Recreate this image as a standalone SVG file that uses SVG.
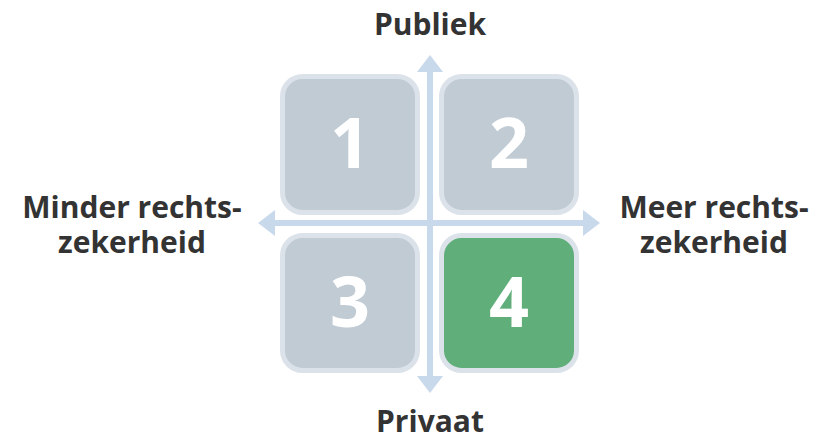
<svg xmlns="http://www.w3.org/2000/svg" width="818" height="439" viewBox="0 0 818 439">
<defs>
<style>
.box{stroke:#dce2ea;stroke-width:5}
.gray{fill:#c1cbd4}
.green{fill:#60ae7a}
.num{font-family:"Open Sans","Noto Sans",sans-serif;font-weight:700;font-size:70px;fill:#ffffff;text-anchor:middle}
.lbl{font-family:"Open Sans","Noto Sans",sans-serif;font-weight:700;font-size:30px;fill:#333333;text-anchor:middle}
.axis{fill:none;stroke:#c9d9ec;stroke-width:6}
.head{fill:#c9d9ec}
</style>
</defs>
<g id="connectors">
<line class="axis" x1="430" y1="70" x2="430" y2="378"/>
<polygon class="head" points="430,55 443,72 417,72"/>
<polygon class="head" points="430,393 443,376 417,376"/>
<line class="axis" x1="273" y1="223" x2="585" y2="223"/>
<polygon class="head" points="258,223 275,210 275,236"/>
<polygon class="head" points="600,223 583,210 583,236"/>
</g>
<g id="node-1">
<rect class="box gray" x="282.5" y="76.5" width="135" height="136" rx="20"/>
<text class="num" x="350" y="168">1</text>
</g>
<g id="node-2">
<rect class="box gray" x="441.5" y="76.5" width="135" height="136" rx="20"/>
<text class="num" x="509" y="168">2</text>
</g>
<g id="node-3">
<rect class="box gray" x="282.5" y="235.5" width="135" height="135" rx="20"/>
<text class="num" x="350" y="327">3</text>
</g>
<g id="node-4">
<rect class="box green" x="441.5" y="235.5" width="135" height="135" rx="20"/>
<text class="num" x="509" y="327">4</text>
</g>
<g id="label-publiek"><text class="lbl" x="430" y="35">Publiek</text></g>
<g id="label-privaat"><text class="lbl" x="430" y="432">Privaat</text></g>
<g id="label-minder"><text class="lbl" x="132" y="218"><tspan x="132" y="218">Minder rechts-</tspan><tspan x="132" y="253">zekerheid</tspan></text></g>
<g id="label-meer"><text class="lbl" x="714" y="218"><tspan x="714" y="218">Meer rechts-</tspan><tspan x="714" y="253">zekerheid</tspan></text></g>
</svg>
